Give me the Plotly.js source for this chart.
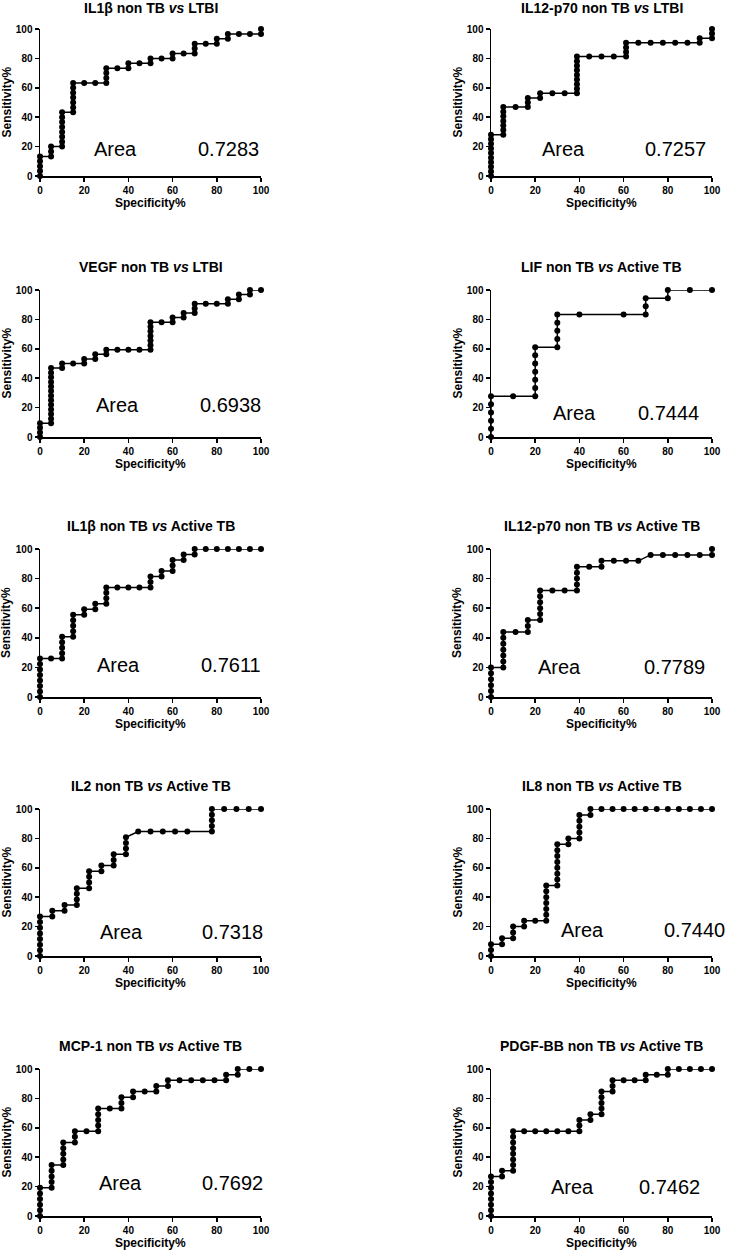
<!DOCTYPE html>
<html>
<head>
<meta charset="utf-8">
<script src="https://cdn.plot.ly/plotly-3.0.1.min.js"></script>
<style>html,body{margin:0;padding:0;background:#fff;}#chart{width:729px;height:1252px;}</style>
</head>
<body>
<div id="chart"></div>
<script>
// ---------- DATA ----------
const panelTitles = [
  'IL1β non TB <i>vs</i> LTBI',
  'IL12-p70 non TB <i>vs</i> LTBI',
  'VEGF non TB <i>vs</i> LTBI',
  'LIF non TB <i>vs</i> Active TB',
  'IL1β non TB <i>vs</i> Active TB',
  'IL12-p70 non TB <i>vs</i> Active TB',
  'IL2 non TB <i>vs</i> Active TB',
  'IL8 non TB <i>vs</i> Active TB',
  'MCP-1 non TB <i>vs</i> Active TB',
  'PDGF-BB non TB <i>vs</i> Active TB'
];
const areaValues = ['0.7283','0.7257','0.6938','0.7444','0.7611','0.7789','0.7318','0.7440','0.7692','0.7462'];
const tickValues = [0, 20, 40, 60, 80, 100];
const xAxisLabel = 'Specificity%';
const yAxisLabel = 'Sensitivity%';

// each curve: x column positions (Specificity%) and the sensitivity points at each column
const il1bLtbiSpec = [0,5,10,15,20,25,30,35,40,45,50,55,60,65,70,75,80,85,90,95,100];
const il1bLtbiSens = [[0,3.33,6.67,10,13.33],[13.33,16.67,20],[20,23.33,26.67,30,33.33,36.67,40,43.33],
  [43.33,46.67,50,53.33,56.67,60,63.33],[63.33],[63.33],[63.33,66.67,70,73.33],[73.33],[73.33,76.67],[76.67],
  [76.67,80],[80],[80,83.33],[83.33],[83.33,86.67,90],[90],[90,93.33],[93.33,96.67],[96.67],[96.67],[96.67,100]];

const il12LtbiSpec = [0,5.56,11.11,16.67,22.22,27.78,33.33,38.89,44.44,50,55.56,61.11,66.67,72.22,77.78,83.33,88.89,94.44,100];
const il12LtbiSens = [[0,3.13,6.25,9.38,12.5,15.63,18.75,21.88,25,28.13],[28.13,31.25,34.38,37.5,40.63,43.75,46.88],
  [46.88],[46.88,50,53.13],[53.13,56.25],[56.25],[56.25],[56.25,59.38,62.5,65.63,68.75,71.88,75,78.13,81.25],
  [81.25],[81.25],[81.25],[81.25,84.38,87.5,90.63],[90.63],[90.63],[90.63],[90.63],[90.63],[90.63,93.75],[93.75,96.88,100]];

const vegfLtbiSpec = [0,5,10,15,20,25,30,35,40,45,50,55,60,65,70,75,80,85,90,95,100];
const vegfLtbiSens = [[0,3.13,6.25,9.38],[9.38,12.5,15.63,18.75,21.88,25,28.13,31.25,34.38,37.5,40.63,43.75,46.88],
  [46.88,50],[50],[50,53.13],[53.13,56.25],[56.25,59.38],[59.38],[59.38],[59.38],
  [59.38,62.5,65.63,68.75,71.88,75,78.13],[78.13],[78.13,81.25],[81.25,84.38],[84.38,87.5,90.63],[90.63],[90.63],
  [90.63,93.75],[93.75,96.88],[96.88,100],[100]];

const lifActiveSpec = [0,10,20,30,40,60,70,80,90,100];
const lifActiveSens = [[0,5.56,11.11,16.67,22.22,27.78],[27.78],[27.78,33.33,38.89,44.44,50,55.56,61.11],
  [61.11,66.67,72.22,77.78,83.33],[83.33],[83.33],[83.33,88.89,94.44],[94.44,100],[100],[100]];

const il1bActiveSpec = [0,5,10,15,20,25,30,35,40,45,50,55,60,65,70,75,80,85,90,95,100];
const il1bActiveSens = [[0,3.7,7.41,11.11,14.81,18.52,22.22,25.93],[25.93],[25.93,29.63,33.33,37.04,40.74],
  [40.74,44.44,48.15,51.85,55.56],[55.56,59.26],[59.26,62.96],[62.96,66.67,70.37,74.07],[74.07],[74.07],[74.07],
  [74.07,77.78,81.48],[81.48,85.19],[85.19,88.89,92.59],[92.59,96.3],[96.3,100],[100],[100],[100],[100],[100],[100]];

const il12ActiveSpec = [0,5.56,11.11,16.67,22.22,27.78,33.33,38.89,44.44,50,55.56,61.11,66.67,72.22,77.78,83.33,88.89,94.44,100];
const il12ActiveSens = [[0,4,8,12,16,20],[20,24,28,32,36,40,44],[44],[44,48,52],[52,56,60,64,68,72],[72],[72],
  [72,76,80,84,88],[88],[88,92],[92],[92],[92],[96],[96],[96],[96],[96],[96,100]];

const il2ActiveSpec = [0,5.56,11.11,16.67,22.22,27.78,33.33,38.89,44.44,50,55.56,61.11,66.67,77.78,83.33,88.89,94.44,100];
const il2ActiveSens = [[0,3.85,7.69,11.54,15.38,19.23,23.08,26.92],[26.92,30.77],[30.77,34.62],[34.62,38.46,42.31,46.15],
  [46.15,50,53.85,57.69],[57.69,61.54],[61.54,65.38,69.23],[69.23,73.08,76.92,80.77],[84.62],[84.62],[84.62],[84.62],[84.62],
  [84.62,88.46,92.31,96.15,100],[100],[100],[100],[100]];

const il8ActiveSpec = [0,5,10,15,20,25,30,35,40,45,50,55,60,65,70,75,80,85,90,95,100];
const il8ActiveSens = [[0,4,8],[8,12],[12,16,20],[20,24],[24],[24,28,32,36,40,44,48],[48,52,56,60,64,68,72,76],
  [76,80],[80,84,88,92,96],[96,100],[100],[100],[100],[100],[100],[100],[100],[100],[100],[100],[100]];

const mcp1ActiveSpec = [0,5.26,10.53,15.79,21.05,26.32,31.58,36.84,42.11,47.37,52.63,57.89,63.16,68.42,73.68,78.95,84.21,89.47,94.74,100];
const mcp1ActiveSens = [[0,3.85,7.69,11.54,15.38,19.23],[19.23,23.08,26.92,30.77,34.62],[34.62,38.46,42.31,46.15,50],
  [50,53.85,57.69],[57.69],[57.69,61.54,65.38,69.23,73.08],[73.08],[73.08,76.92,80.77],[80.77,84.62],[84.62],
  [84.62,88.46],[88.46,92.31],[92.31],[92.31],[92.31],[92.31],[92.31,96.15],[96.15,100],[100],[100]];

const pdgfActiveSpec = [0,5,10,15,20,25,30,35,40,45,50,55,60,65,70,75,80,85,90,95,100];
const pdgfActiveSens = [[0,3.85,7.69,11.54,15.38,19.23,23.08,26.92],[26.92,30.77],
  [30.77,34.62,38.46,42.31,46.15,50,53.85,57.69],[57.69],[57.69],[57.69],[57.69],[57.69],[57.69,61.54,65.38],
  [65.38,69.23],[69.23,73.08,76.92,80.77,84.62],[84.62,88.46,92.31],[92.31],[92.31],[92.31,96.15],[96.15],
  [96.15,100],[100],[100],[100],[100]];

const curves = [
  [il1bLtbiSpec, il1bLtbiSens], [il12LtbiSpec, il12LtbiSens], [vegfLtbiSpec, vegfLtbiSens], [lifActiveSpec, lifActiveSens],
  [il1bActiveSpec, il1bActiveSens], [il12ActiveSpec, il12ActiveSens], [il2ActiveSpec, il2ActiveSens], [il8ActiveSpec, il8ActiveSens],
  [mcp1ActiveSpec, mcp1ActiveSens], [pdgfActiveSpec, pdgfActiveSens]
];

// ---------- LAYOUT (pixel geometry of the page) ----------
const W = 729, H = 1252;
const colPx = [[40, 261], [491, 712]];
const rowPx = [[29, 176], [290, 437], [549, 697], [809, 956], [1069, 1216]];
// annotation placement inside each panel (fraction of plot width/height x100):
// [area label centre x, label y, value right edge x]
const areaPos = [[34,18.4,100],[33,18.4,98],[35,21.8,100.7],[38,16.5,95],[35.5,21.8,101],
                 [31,20,97.6],[37,16.5,102],[41.5,17.7,107],[36.6,22.4,101.8],[36.7,19.7,95.5]];
const FONT = 'Arial, "Liberation Sans", sans-serif';

const px = v => v / W;
const py = v => 1 - v / H;

const traces = [];
const layout = {
  width: W, height: H,
  margin: {l: 0, r: 0, t: 0, b: 0},
  paper_bgcolor: '#fff', plot_bgcolor: '#fff',
  showlegend: false,
  annotations: []
};

curves.forEach((c, i) => {
  const n = i + 1;
  const col = i % 2, row = Math.floor(i / 2);
  const xs = [], ys = [];
  c[0].forEach((xv, k) => c[1][k].forEach(yv => { xs.push(xv); ys.push(yv); }));
  traces.push({
    type: 'scatter', mode: 'lines+markers',
    x: xs, y: ys,
    xaxis: 'x' + n, yaxis: 'y' + n,
    line: {color: '#000', width: 1.5},
    marker: {color: '#000', size: 6},
    cliponaxis: false, hoverinfo: 'skip'
  });
  const axCommon = {
    range: [0, 100], showline: true, linecolor: '#000', linewidth: 1.5,
    ticks: 'outside', ticklen: 4, tickwidth: 1.5, tickcolor: '#000',
    tickvals: tickValues, ticktext: tickValues.map(String),
    tickfont: {family: FONT, size: 10, color: '#000', weight: 'bold'},
    showgrid: false, zeroline: false, fixedrange: true
  };
  const [xl, xr] = colPx[col];
  const [yt, yb] = rowPx[row];
  layout['xaxis' + (n === 1 ? '' : n)] = Object.assign({}, axCommon, {
    domain: [px(xl), px(xr)], anchor: 'y' + n
  });
  layout['yaxis' + (n === 1 ? '' : n)] = Object.assign({}, axCommon, {
    domain: [py(yb), py(yt)], anchor: 'x' + n
  });
  const cx = (xl + xr) / 2, cy = (yt + yb) / 2;
  // panel title
  layout.annotations.push({
    xref: 'paper', yref: 'paper', x: px(cx), y: py(row === 0 ? 8 : yt - 23),
    xanchor: 'center', yanchor: 'middle', showarrow: false,
    text: '<b>' + panelTitles[i] + '</b>',
    font: {family: FONT, size: 14, color: '#000'}
  });
  // x axis title
  layout.annotations.push({
    xref: 'paper', yref: 'paper', x: px(cx), y: py(yb + 27),
    xanchor: 'center', yanchor: 'middle', showarrow: false,
    text: '<b>' + xAxisLabel + '</b>',
    font: {family: FONT, size: 12, color: '#000'}
  });
  // y axis title
  layout.annotations.push({
    xref: 'paper', yref: 'paper', x: px(xl - 34), y: py(cy),
    xanchor: 'center', yanchor: 'middle', showarrow: false, textangle: -90,
    text: '<b>' + yAxisLabel + '</b>',
    font: {family: FONT, size: 12, color: '#000'}
  });
  // Area label + value (paper coords so nothing is hidden past the axis end)
  const p = areaPos[i];
  const ax = f => px(xl + f / 100 * (xr - xl));
  const ay = f => py(yb - f / 100 * (yb - yt));
  layout.annotations.push({
    xref: 'paper', yref: 'paper', x: ax(p[0]), y: ay(p[1]),
    xanchor: 'center', yanchor: 'middle', showarrow: false,
    text: 'Area', font: {family: FONT, size: 20, color: '#000'}
  });
  layout.annotations.push({
    xref: 'paper', yref: 'paper', x: ax(p[2]), y: ay(p[1]),
    xanchor: 'right', yanchor: 'middle', showarrow: false,
    text: areaValues[i], font: {family: FONT, size: 20, color: '#000'}
  });
});

Plotly.newPlot('chart', traces, layout, {staticPlot: true, displayModeBar: false});
</script>
</body>
</html>
